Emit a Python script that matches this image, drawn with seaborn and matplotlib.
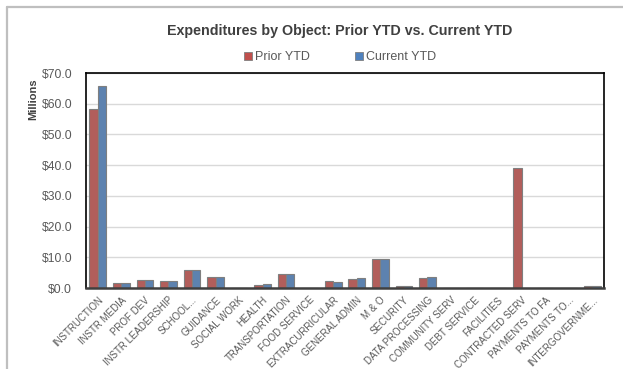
import matplotlib
matplotlib.use("Agg")
import matplotlib.pyplot as plt
from matplotlib.lines import Line2D
from matplotlib.ticker import FuncFormatter, MultipleLocator
import pandas as pd
import seaborn as sns

categories = [
    "INSTRUCTION", "INSTR MEDIA", "PROF DEV", "INSTR LEADERSHIP", "SCHOOL...",
    "GUIDANCE", "SOCIAL WORK", "HEALTH", "TRANSPORTATION", "FOOD SERVICE",
    "EXTRACURRICULAR", "GENERAL ADMIN", "M & O", "SECURITY", "DATA PROCESSING",
    "COMMUNITY SERV", "DEBT SERVICE", "FACILITIES", "CONTRACTED SERV",
    "PAYMENTS TO FA", "PAYMENTS TO...", "INTERGOVERNME...",
]
prior_ytd = [58.3, 1.5, 2.5, 2.2, 5.7, 3.5, 0.0, 1.1, 4.4, 0.0,
             2.3, 2.9, 9.4, 0.5, 3.4, 0.0, 0.0, 0.0, 39.2, 0.0, 0.0, 0.6]
current_ytd = [65.9, 1.5, 2.5, 2.2, 5.9, 3.7, 0.0, 1.3, 4.5, 0.0,
               1.9, 3.2, 9.4, 0.5, 3.6, 0.0, 0.0, 0.0, 0.0, 0.0, 0.0, 0.6]
series = ["Prior YTD", "Current YTD"]
colors = ["#C0504D", "#4F81BD"]
y_ticks = [0, 10, 20, 30, 40, 50, 60, 70]

df = pd.DataFrame({
    "Object": categories * 2,
    "Series": [series[0]] * len(categories) + [series[1]] * len(categories),
    "Millions": prior_ytd + current_ytd,
})

sns.set_theme(style="white")
plt.rcParams["font.family"] = ["Liberation Sans", "DejaVu Sans"]

W, H = 623, 369
fig = plt.figure(figsize=(W / 100, H / 100), dpi=100)
ax = fig.add_axes([86 / W, 1 - 288 / H, (604 - 86) / W, (288 - 73) / H])

sns.barplot(data=df, x="Object", y="Millions", hue="Series", order=categories,
            hue_order=series, palette=colors, width=0.71, gap=0,
            edgecolor="#7f7f7f", linewidth=0.8, errorbar=None,
            legend=False, ax=ax)

ax.set_ylim(y_ticks[0], y_ticks[-1])
ax.set_xlim(-0.5, len(categories) - 0.5)
ax.yaxis.set_major_locator(MultipleLocator(10))
ax.yaxis.set_major_formatter(FuncFormatter(lambda v, p: f"${v:.1f}"))
ax.grid(axis="y", color="#d9d9d9", linewidth=1.0)
ax.set_axisbelow(True)

for side in ["left", "top", "right"]:
    ax.spines[side].set_color("#000000")
    ax.spines[side].set_linewidth(1.2)
ax.spines["bottom"].set_color("#404040")
ax.spines["bottom"].set_linewidth(1.8)

ax.tick_params(axis="y", length=0, pad=10, labelsize=8.7, labelcolor="#595959")
ax.tick_params(axis="x", length=0, pad=5, labelsize=7, labelcolor="#595959")
plt.setp(ax.get_xticklabels(), rotation=45, ha="right", va="top",
         rotation_mode="anchor")

ax.set_xlabel("")
ax.set_ylabel("")
fig.text(33 / W, 1 - 99 / H, "Millions", rotation=90, ha="center", va="center",
         fontsize=8, fontweight="bold", color="#404040")

fig.text(340 / W, 1 - 31 / H, "Expenditures by Object: Prior YTD vs. Current YTD",
         ha="center", va="center", fontsize=10.3, fontweight="bold",
         color="#404040")

handles = [Line2D([], [], linestyle="none", marker="s", markersize=5.2,
                  markerfacecolor=c, markeredgecolor="#7f7f7f",
                  markeredgewidth=0.6) for c in colors]
fig.legend(handles, series, loc="center", bbox_to_anchor=(340 / W, 1 - 57 / H),
           ncol=2, frameon=False, fontsize=9, handlelength=0.6,
           handletextpad=0.25, columnspacing=3.6, labelcolor="#595959")

# outer chart border
x0 = 7 / W
y0 = 1 - 7 / H
fig.add_artist(Line2D([x0, x0], [0, y0], color="#bfbfbf", linewidth=1.6,
                      transform=fig.transFigure))
fig.add_artist(Line2D([x0, 1], [y0, y0], color="#bfbfbf", linewidth=1.6,
                      transform=fig.transFigure))

fig.savefig("out.png", dpi=100, facecolor="white")
